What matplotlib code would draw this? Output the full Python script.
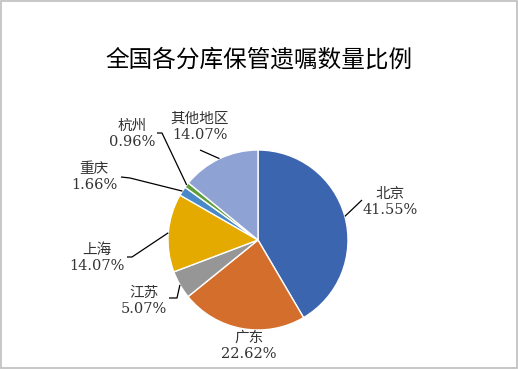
import numpy as np
import matplotlib
matplotlib.use("Agg")
import matplotlib.pyplot as plt
from matplotlib.patches import Rectangle

plt.rcParams['font.family'] = ['DejaVu Serif', 'Noto Sans CJK SC', 'DejaVu Sans']

title = "全国各分库保管遗嘱数量比例"
categories = ["北京", "广东", "江苏", "上海", "重庆", "杭州", "其他地区"]
values = [41.55, 22.62, 5.07, 14.07, 1.66, 0.96, 14.07]
colors = ["#3C65AF", "#D46E2C", "#969696", "#E5AA00", "#4A89C8", "#5E9E3A", "#8FA2D4"]

W, H = 518, 370
fig = plt.figure(figsize=(W / 100, H / 100), dpi=100)
ax = fig.add_axes([0, 0, 1, 1])
ax.set_xlim(0, W)
ax.set_ylim(0, H)
ax.set_aspect('equal')
ax.axis('off')

cx, cy, R = 258, H - 240, 90
wedges, _ = ax.pie(values, colors=colors, startangle=90, counterclock=False,
                   center=(cx, cy), radius=R,
                   wedgeprops=dict(edgecolor='white', linewidth=1))
ax.set_xlim(0, W)
ax.set_ylim(0, H)

# label layout (pixel coords, top-left origin): text center, leader path points
label_pos = {
    "北京": (390, 202), "广东": (249, 346), "江苏": (144, 301), "上海": (97, 258),
    "重庆": (94, 177), "杭州": (132, 134), "其他地区": (200, 127),
}
leader = {
    "北京": [(362, 200)],
    "广东": None,
    "江苏": [(177, 298), (169, 298)],
    "上海": [(132, 257), (127, 257)],
    "重庆": [(130, 178), (121, 177)],
    "杭州": [(162, 133), (157, 133)],
    "其他地区": [(200, 150)],
}

for w, name, v in zip(wedges, categories, values):
    ang = np.deg2rad((w.theta1 + w.theta2) / 2)
    ex, ey = cx + R * np.cos(ang), cy + R * np.sin(ang)
    pts = leader[name]
    if pts:
        xs = [ex] + [p[0] for p in pts]
        ys = [ey] + [H - p[1] for p in pts]
        ax.plot(xs, ys, color='black', lw=0.9, solid_capstyle='butt')
    tx, ty = label_pos[name]
    ax.text(tx, H - ty, f"{name}\n{v:.2f}%", ha='center', va='center',
            fontsize=10.5, linespacing=1.2, color='#333333')

ax.text(259, H - 60, title, ha='center', va='center', fontsize=17,
        family=['Noto Sans CJK SC'], fontweight='medium', color='black')

ax.add_patch(Rectangle((0.5, H - 367.5), 516, 367, fill=False,
                       edgecolor='#BDBDBD', lw=1.2, clip_on=False))

fig.savefig("out.png", dpi=100)
